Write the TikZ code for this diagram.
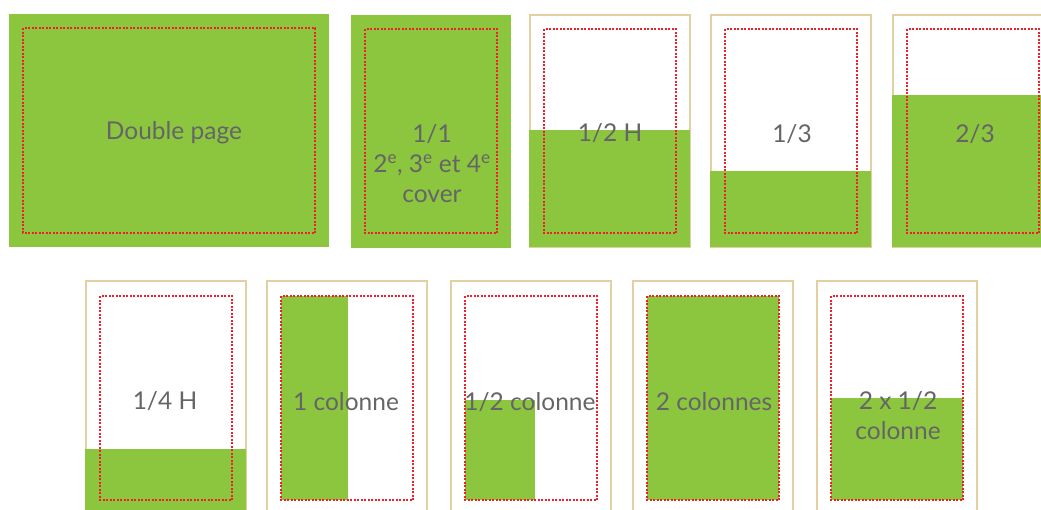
\documentclass[tikz,border=0pt]{standalone}
\usepackage{fontspec}
\setmainfont{Lato}
\usepackage{xcolor}
\usepackage{tikz}
\usetikzlibrary{positioning}

\definecolor{adgreen}{HTML}{8CC63F}
\definecolor{pagetan}{HTML}{E2CFA2}
\definecolor{lblgray}{HTML}{656567}
\definecolor{cutred}{HTML}{F0202A}

\tikzset{
  pageframe/.style={draw=pagetan, line width=1.4pt, fill=white},
  adarea/.style={fill=adgreen},
  marginline/.style={draw=cutred, line width=2.1pt, dash pattern=on 2pt off 1.5pt},
  lbl/.style={text=lblgray, font=\fontsize{24.5}{30}\selectfont, align=center, inner sep=0pt, yshift=-2pt}
}

\begin{document}
\begin{tikzpicture}[x=1pt, y=-1pt]
		\useasboundingbox (0,0) rectangle (1041,509);

		% top row: full green pages
		\fill[adarea] (9,14) rectangle (329,247);
		\draw[marginline] (23,28) rectangle (315,233);
		\node[lbl] (dp) at (174,131) {Double page};

		\fill[adarea] (351,15) rectangle (511,248);
		\draw[marginline] (365,29) rectangle (497,233);
		\node[lbl] (full) at (432,162) {1/1\\2\textsuperscript{e}, 3\textsuperscript{e} et 4\textsuperscript{e}\\cover};

		% top row: empty pages
		\foreach \px in {530,711,893}
			\draw[pageframe] (\px,15) rectangle ++(160,232);

		\fill[adarea] (529,130) rectangle (690,247);
		\fill[adarea] (710,171) rectangle (871,247);
		\fill[adarea] (892,95) rectangle (1053,247);

		\foreach \px in {530,711,893}
			\draw[marginline] (\px+14,29) rectangle ++(132,204);

		\node[lbl] (halfh) at (610,131) {1/2 H};
		\node[lbl] (third) at (792,132) {1/3};
		\node[lbl] (twothird) at (975,132) {2/3};

		% bottom row
		\foreach \px in {86,267,451,633,817}
			\draw[pageframe] (\px,281) rectangle ++(160,240);

		\fill[adarea] (85,449) rectangle (246,521);
		\fill[adarea] (281,296) rectangle (348,500);
		\fill[adarea] (465,400) rectangle (535,500);
		\fill[adarea] (647,296) rectangle (779,500);
		\fill[adarea] (831,398) rectangle (963,500);

		\foreach \px in {86,267,451,633,817}
			\draw[marginline] (\px+14,296) rectangle ++(132,204);

		\node[lbl] (quarter) at (165,399) {1/4 H};
		\node[lbl] (onecol) at (346,400) {1 colonne};
		\node[lbl] (halfcol) at (530,400) {1/2 colonne};
		\node[lbl] (twocol) at (714,400) {2 colonnes};
		\node[lbl] (twohalf) at (898,414) {2 x 1/2\\colonne};
	\end{tikzpicture}
\end{document}
